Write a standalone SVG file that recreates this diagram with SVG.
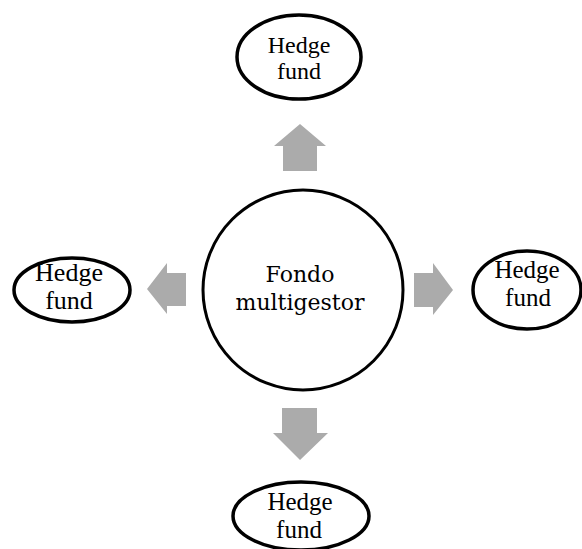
<svg xmlns="http://www.w3.org/2000/svg" width="582" height="549" viewBox="0 0 582 549">
<style>
.node{fill:#fff;stroke:#000;stroke-width:3.5}
.hub{fill:#fff;stroke:#000;stroke-width:3}
.lbl{font-family:"Liberation Serif","Times New Roman",serif;fill:#000;text-anchor:middle}
.hubl{font-family:"DejaVu Serif","Liberation Serif",serif;fill:#000;text-anchor:middle;font-size:22px}
.arr{fill:#ababab;stroke:none}
</style>
<rect width="582" height="549" fill="#fff"/>
<g id="connectors">
<polygon class="arr" points="300,124 326,146 317,146 317,171 283,171 283,146 274,146"/>
<polygon class="arr" points="300,460 328,433 317,433 317,408 282,408 282,433 273,433"/>
<polygon class="arr" points="147,289 167,263 167,273 186,273 186,306 167,306 167,314"/>
<polygon class="arr" points="453,290 433,263 433,273 414,273 414,307 433,307 433,315"/>
</g>
<g id="hub">
<circle class="hub" cx="303" cy="290" r="100"/>
<text class="hubl" x="300" y="282">Fondo</text>
<text class="hubl" x="300" y="310">multigestor</text>
</g>
<g id="hf-top">
<ellipse class="node" cx="299" cy="57" rx="62" ry="42"/>
<text class="lbl" x="299" y="53" font-size="24">Hedge</text>
<text class="lbl" x="299" y="79" font-size="24">fund</text>
</g>
<g id="hf-left">
<ellipse class="node" cx="72" cy="290" rx="58" ry="32"/>
<text class="lbl" x="69" y="281" font-size="26">Hedge</text>
<text class="lbl" x="69" y="309" font-size="26">fund</text>
</g>
<g id="hf-right">
<ellipse class="node" cx="527" cy="290" rx="54" ry="39"/>
<text class="lbl" x="527" y="278" font-size="25">Hedge</text>
<text class="lbl" x="528" y="306" font-size="25">fund</text>
</g>
<g id="hf-bottom">
<ellipse class="node" cx="301" cy="516" rx="68" ry="34"/>
<text class="lbl" x="300" y="510" font-size="25">Hedge</text>
<text class="lbl" x="299" y="538" font-size="25">fund</text>
</g>
</svg>
